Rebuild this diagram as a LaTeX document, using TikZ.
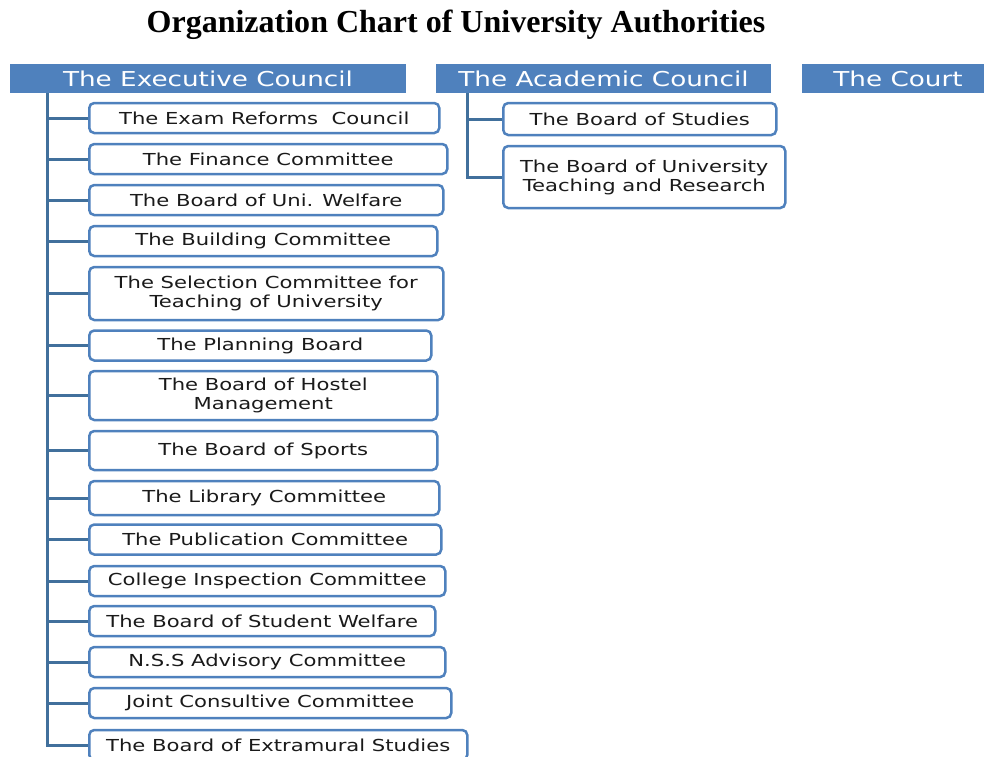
\documentclass[tikz,border=0pt]{standalone}
\usepackage{fontspec}
\setmainfont{Liberation Serif}
\newfontfamily\boxfont[FakeStretch=1.28]{DejaVu Sans}
\usetikzlibrary{positioning}
\definecolor{headblue}{HTML}{4F81BD}
\definecolor{trunkblue}{HTML}{41709C}
\definecolor{boxtext}{HTML}{1A1A1A}

\begin{document}
\begin{tikzpicture}[
    x=1pt, y=-1pt,
    head/.style={fill=headblue, text=white, minimum height=29pt, inner sep=0pt,
                 font=\boxfont\fontsize{20.5}{22}\selectfont},
    unit/.style={draw=headblue, line width=2.5pt, rounded corners=5pt, fill=white,
                 text=boxtext, anchor=west, align=center, inner sep=0pt,
                 minimum height=30pt, font=\boxfont\fontsize{16.5}{19}\selectfont},
    link/.style={trunkblue, line width=3pt},
]
\useasboundingbox (0,0) rectangle (984,756);

\node[font=\bfseries\fontsize{32}{36}\selectfont] (title) at (456,25) {Organization Chart of University Authorities};

% top level
\node[head, minimum width=396pt] (exec) at (208,78.5) {The Executive Council};
\node[head, minimum width=335pt] (acad) at (603.5,78.5) {The Academic Council};
\node[head, minimum width=192pt] (court) at (898,78.5) {The Court};

% executive council
\node[unit, minimum width=350pt] (exam) at (88,118) {The Exam Reforms\ \ Council};
\node[unit, minimum width=358pt] (fin) at (88,159) {The Finance Committee};
\node[unit, minimum width=354pt] (welf) at (88,200) {The Board of Uni. Welfare};
\node[unit, minimum width=348pt] (build) at (88,241) {The Building Committee};
\node[unit, minimum width=354pt, minimum height=53pt] (select) at (88,293.5) {The Selection Committee for\\Teaching of University};
\node[unit, minimum width=342pt] (plan) at (88,345.5) {The Planning Board};
\node[unit, minimum width=348pt, minimum height=49pt] (hostel) at (88,395.5) {The Board of Hostel\\Management};
\node[unit, minimum width=348pt, minimum height=39pt] (sport) at (88,450.5) {The Board of Sports};
\node[unit, minimum width=350pt, minimum height=34pt] (lib) at (88,498) {The Library Committee};
\node[unit, minimum width=352pt] (pub) at (88,539.5) {The Publication Committee};
\node[unit, minimum width=356pt] (insp) at (88,581) {College Inspection Committee};
\node[unit, minimum width=346pt] (stud) at (88,621) {The Board of Student Welfare};
\node[unit, minimum width=356pt] (nss) at (88,662) {N.S.S Advisory Committee};
\node[unit, minimum width=362pt] (joint) at (88,703) {Joint Consultive Committee};
\node[unit, minimum width=378pt] (extra) at (88,745) {The Board of Extramural Studies};

% academic council
\node[unit, minimum width=273pt, minimum height=32pt] (studies) at (502,119) {The Board of Studies};
\node[unit, minimum width=282pt, minimum height=62pt] (teach) at (502,177) {The Board of University\\Teaching and Research};

\coordinate (etrunk) at (47,93);
\coordinate (atrunk) at (467,93);

\draw[link] (etrunk) |- (extra.west);
\foreach \n in {exam,fin,welf,build,select,plan,hostel,sport,lib,pub,insp,stud,nss,joint}
  \draw[link] (etrunk |- \n.west) -- (\n.west);
\draw[link] (atrunk) |- (teach.west);
\draw[link] (atrunk |- studies.west) -- (studies.west);
\end{tikzpicture}
\end{document}
